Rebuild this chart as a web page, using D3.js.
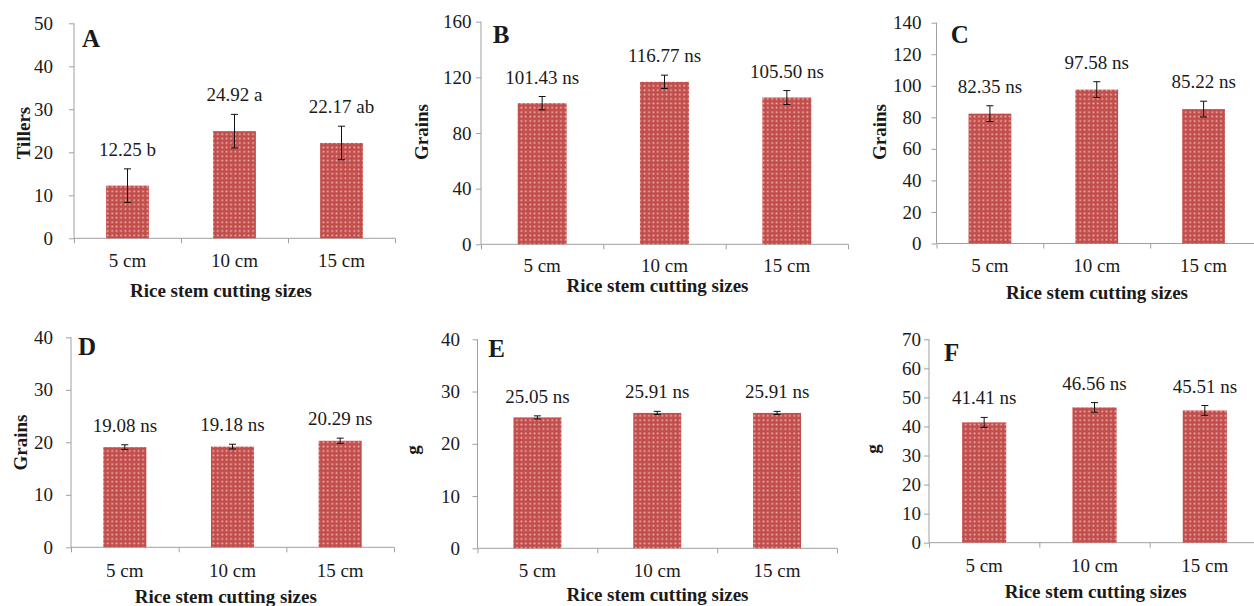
<!DOCTYPE html>
<html>
<head>
<meta charset="utf-8">
<script src="https://cdn.jsdelivr.net/npm/d3@7"></script>
<style>
  html, body { margin: 0; padding: 0; background: #fff; }
  svg { display: block; }
  text { font-family: "Liberation Serif", "Times New Roman", serif; fill: #1a1a1a; }
</style>
</head>
<body>
<svg id="chart" width="1254" height="606"></svg>
<script>
// ---- data ----
const categories = ["5 cm", "10 cm", "15 cm"];

const tillersA = [12.25, 24.92, 22.17];
const errA = [3.9, 3.9, 3.9];
const sigA = ["b", "a", "ab"];

const grainsB = [101.43, 116.77, 105.50];
const errB = [4.8, 4.8, 5.0];
const sigB = ["ns", "ns", "ns"];

const grainsC = [82.35, 97.58, 85.22];
const errC = [5.0, 5.0, 5.0];
const sigC = ["ns", "ns", "ns"];

const grainsD = [19.08, 19.18, 20.29];
const errD = [0.45, 0.45, 0.5];
const sigD = ["ns", "ns", "ns"];

const weightE = [25.05, 25.91, 25.91];
const errE = [0.3, 0.3, 0.3];
const sigE = ["ns", "ns", "ns"];

const weightF = [41.41, 46.56, 45.51];
const errF = [1.7, 1.65, 1.7];
const sigF = ["ns", "ns", "ns"];

const ticksA = [0, 10, 20, 30, 40, 50];
const ticksB = [0, 40, 80, 120, 160];
const ticksC = [0, 20, 40, 60, 80, 100, 120, 140];
const ticksD = [0, 10, 20, 30, 40];
const ticksE = [0, 10, 20, 30, 40];
const ticksF = [0, 10, 20, 30, 40, 50, 60, 70];

const xTitle = "Rice stem cutting sizes";

// ---- panels (data + layout) ----
const panels = [
  { letter: "A", values: tillersA, errs: errA, sig: sigA, ticks: ticksA, yTitle: "Tillers",
    x0: 74, x1: 395, yTop: 23.3, y0: 238.3, pad: 16, xLabY: 267, titleX: 221, titleY: 297,
    ytX: 30, ytY: 133, letX: 82, letY: 47 },
  { letter: "B", values: grainsB, errs: errB, sig: sigB, ticks: ticksB, yTitle: "Grains",
    x0: 481, x1: 848, yTop: 21.7, y0: 244.3, pad: 4.5, xLabY: 272.5, titleX: 657.5, titleY: 291.5,
    ytX: 428, ytY: 132, letX: 492.7, letY: 43.3 },
  { letter: "C", values: grainsC, errs: errC, sig: sigC, ticks: ticksC, yTitle: "Grains",
    x0: 936.5, x1: 1257, yTop: 22.7, y0: 243.5, pad: 10, xLabY: 271.5, titleX: 1097, titleY: 299,
    ytX: 885.7, ytY: 132, letX: 950.7, letY: 43 },
  { letter: "D", values: grainsD, errs: errD, sig: sigD, ticks: ticksD, yTitle: "Grains",
    x0: 71, x1: 394, yTop: 337.3, y0: 547.3, pad: 13, xLabY: 576.7, titleX: 225.8, titleY: 603,
    ytX: 26.7, ytY: 442.5, letX: 78, letY: 355 },
  { letter: "E", values: weightE, errs: errE, sig: sigE, ticks: ticksE, yTitle: "g",
    x0: 477.5, x1: 837, yTop: 339.3, y0: 548.3, pad: 12.5, xLabY: 577.3, titleX: 657.5, titleY: 600.5,
    ytX: 419, ytY: 450, letX: 488.3, letY: 357 },
  { letter: "F", values: weightF, errs: errF, sig: sigF, ticks: ticksF, yTitle: "g",
    x0: 929, x1: 1260, yTop: 339.3, y0: 542.7, pad: 3, xLabY: 571.7, titleX: 1095.7, titleY: 598,
    ytX: 879, ytY: 449, letX: 944, letY: 360.7 }
];

const svg = d3.select("#chart");
svg.append("rect").attr("width", 1254).attr("height", 606).attr("fill", "#fff");

// dotted red fill pattern
const defs = svg.append("defs");
const pat = defs.append("pattern").attr("id", "dots")
  .attr("patternUnits", "userSpaceOnUse").attr("width", 4.4).attr("height", 4.4);
pat.append("rect").attr("width", 4.4).attr("height", 4.4).attr("fill", "#C24E4C");
pat.append("rect").attr("x", 1.4).attr("y", 1.4).attr("width", 1.6).attr("height", 1.6).attr("fill", "#F2BDBB");

const axisColor = "#a0a0a0";
const fs = 19;
const serif = '"Liberation Serif", "Times New Roman", serif';

panels.forEach(p => {
  const g = svg.append("g");
  const yMax = p.ticks[p.ticks.length - 1];
  const y = d3.scaleLinear().domain([0, yMax]).range([p.y0, p.yTop]);
  const x = d3.scaleBand().domain(categories).range([p.x0, p.x1]).paddingInner(0.6).paddingOuter(0.3);
  const xb = d3.scaleLinear().domain([0, categories.length]).range([p.x0, p.x1]);

  // y axis
  const ya = g.append("g").attr("transform", `translate(${p.x0},0)`)
    .call(d3.axisLeft(y).tickValues(p.ticks).tickSize(5).tickPadding(p.pad).tickFormat(d3.format("d")));
  ya.select(".domain").attr("stroke", axisColor).attr("d", `M0,${p.y0}V${p.yTop}`);
  ya.selectAll(".tick line").attr("stroke", axisColor);
  ya.selectAll("text").style("font-size", fs + "px").style("font-family", serif).attr("fill", "#1a1a1a");

  // x axis boundary ticks
  const xa = g.append("g").attr("transform", `translate(0,${p.y0})`)
    .call(d3.axisBottom(xb).tickValues(d3.range(categories.length + 1)).tickSize(5).tickFormat(""));
  xa.select(".domain").attr("stroke", axisColor).attr("d", `M${p.x0},0H${p.x1}`);
  xa.selectAll(".tick line").attr("stroke", axisColor);

  // category labels
  const xl = g.append("g").attr("transform", `translate(0,${p.y0})`)
    .call(d3.axisBottom(x).tickSize(0));
  xl.select(".domain").remove();
  xl.selectAll("text").attr("y", p.xLabY - p.y0).attr("dy", null)
    .style("font-size", fs + "px").style("font-family", serif).attr("fill", "#1a1a1a");

  // bars
  g.selectAll(".bar").data(p.values).enter().append("rect")
    .attr("x", (d, i) => x(categories[i]))
    .attr("width", x.bandwidth())
    .attr("y", d => y(d))
    .attr("height", d => p.y0 - y(d))
    .attr("fill", "url(#dots)");

  // error bars + value labels
  const cx = i => x(categories[i]) + x.bandwidth() / 2;
  p.values.forEach((v, i) => {
    const e = p.errs[i];
    const c = cx(i);
    g.append("line").attr("x1", c).attr("x2", c).attr("y1", y(v + e)).attr("y2", y(v - e)).attr("stroke", "#111").attr("stroke-width", 1);
    g.append("line").attr("x1", c - 3.5).attr("x2", c + 3.5).attr("y1", y(v + e)).attr("y2", y(v + e)).attr("stroke", "#111").attr("stroke-width", 1);
    g.append("line").attr("x1", c - 3.5).attr("x2", c + 3.5).attr("y1", y(v - e)).attr("y2", y(v - e)).attr("stroke", "#111").attr("stroke-width", 1);
    g.append("text").attr("x", c).attr("y", y(v + e) - 13).attr("text-anchor", "middle")
      .style("font-size", fs + "px").text(v.toFixed(2) + " " + p.sig[i]);
  });

  // panel letter
  g.append("text").attr("x", p.letX).attr("y", p.letY).style("font-size", "25px").style("font-weight", "bold").text(p.letter);

  // axis titles
  g.append("text").attr("x", p.titleX).attr("y", p.titleY).attr("text-anchor", "middle")
    .style("font-size", fs + "px").style("font-weight", "bold").text(xTitle);
  g.append("text").attr("transform", `translate(${p.ytX},${p.ytY}) rotate(-90)`).attr("text-anchor", "middle")
    .style("font-size", fs + "px").style("font-weight", "bold").text(p.yTitle);
});
</script>
</body>
</html>
